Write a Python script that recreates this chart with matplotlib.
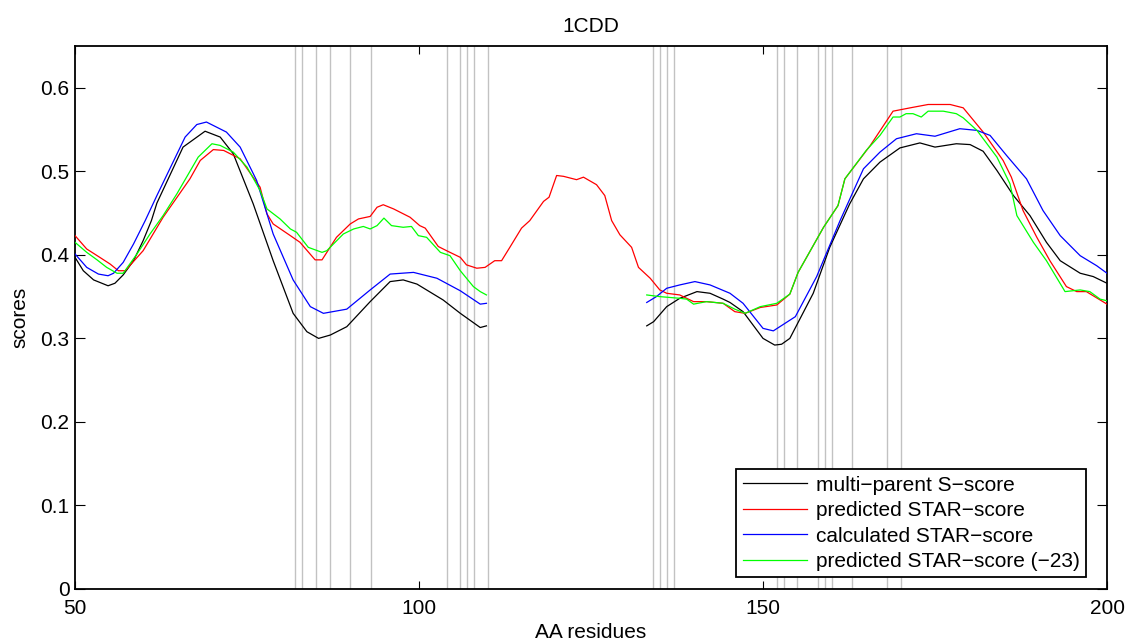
import matplotlib
matplotlib.use("Agg")
import matplotlib.pyplot as plt

plt.rcParams['font.family'] = ['Liberation Sans', 'DejaVu Sans']

# positions of the gray marker lines (residue numbers)
marks = [82, 83, 85, 87, 90, 93, 104, 106, 107, 108, 110,
         134, 135, 136, 137, 152, 153, 155, 158, 159, 160, 163, 168, 170]

# multi-parent S-score (two segments, gap between 110 and 133)
black_x1 = [50, 51.2, 52.7, 54.8, 55.8, 57.0, 58.5, 59.9, 61.1, 61.9, 65.7, 68.9, 71.1, 73.0, 75.9,
            78.8, 81.7, 83.7, 85.4, 87.1, 89.5, 92.9, 95.8, 97.7, 99.7, 103.5, 106.0, 108.9, 109.8]
black_y1 = [0.397, 0.381, 0.370, 0.363, 0.366, 0.376, 0.393, 0.417, 0.441, 0.462, 0.529, 0.548, 0.541,
            0.521, 0.461, 0.393, 0.330, 0.308, 0.300, 0.304, 0.314, 0.344, 0.368, 0.370, 0.365,
            0.346, 0.330, 0.313, 0.315]
black_x2 = [133.1, 134.1, 136.0, 137.9, 140.4, 142.3, 144.2, 145.2, 147.1, 150.0, 151.7, 152.7, 153.9,
            157.3, 159.7, 162.6, 164.6, 167.0, 169.9, 172.8, 175.0, 178.1, 180.1, 182.0, 184.0,
            186.4, 188.8, 191.2, 193.2, 196.1, 198.0, 200]
black_y2 = [0.315, 0.320, 0.338, 0.348, 0.356, 0.354, 0.347, 0.343, 0.332, 0.300, 0.292, 0.293, 0.300,
            0.354, 0.409, 0.461, 0.491, 0.511, 0.528, 0.534, 0.529, 0.533, 0.532, 0.524, 0.501,
            0.471, 0.447, 0.415, 0.393, 0.378, 0.374, 0.366]

# predicted STAR-score (continuous)
red_x = [50, 51.7, 53.6, 55.1, 56.3, 57.3, 59.9, 62.8, 66.7, 68.2, 70.1, 71.6, 74.0, 76.9, 77.9,
         78.8, 81.3, 82.7, 84.9, 85.9, 88.0, 90.0, 91.2, 92.9, 93.9, 94.8, 96.3, 98.7, 100.1,
         100.9, 102.8, 104.0, 106.0, 106.9, 108.4, 109.6, 111.0, 112.0, 113.2, 114.9, 116.1,
         118.1, 118.9, 120.0, 121.0, 122.9, 123.9, 125.8, 127.0, 128.0, 129.2, 130.9, 131.9,
         133.6, 135.0, 136.0, 137.9, 139.9, 141.8, 144.2, 145.9, 147.4, 149.6, 152.0, 153.9,
         155.1, 158.8, 160.9, 161.9, 165.6, 168.9, 171.4, 174.0, 177.2, 179.1, 182.0, 184.9,
         186.1, 187.8, 189.8, 191.7, 194.1, 195.6, 197.0, 199.0, 200]
red_y = [0.423, 0.407, 0.397, 0.389, 0.381, 0.381, 0.405, 0.445, 0.491, 0.513, 0.526, 0.525, 0.515,
         0.481, 0.449, 0.437, 0.423, 0.415, 0.394, 0.394, 0.421, 0.437, 0.443, 0.446, 0.457,
         0.460, 0.455, 0.445, 0.435, 0.432, 0.410, 0.405, 0.397, 0.388, 0.384, 0.385, 0.393,
         0.393, 0.409, 0.432, 0.441, 0.464, 0.469, 0.495, 0.494, 0.490, 0.493, 0.484, 0.471,
         0.441, 0.424, 0.409, 0.385, 0.372, 0.358, 0.354, 0.352, 0.344, 0.344, 0.342, 0.332,
         0.330, 0.337, 0.340, 0.353, 0.379, 0.433, 0.459, 0.491, 0.531, 0.572, 0.576, 0.580,
         0.580, 0.576, 0.547, 0.513, 0.493, 0.453, 0.421, 0.393, 0.362, 0.356, 0.356, 0.346, 0.341]

# calculated STAR-score (two segments)
blue_x1 = [50, 51.7, 53.4, 54.8, 55.6, 57.0, 58.5, 60.2, 61.9, 66.0, 67.7, 69.1, 72.0, 74.0, 76.4,
           78.8, 81.7, 84.2, 86.1, 89.5, 92.9, 95.8, 99.2, 102.6, 106.0, 108.9, 109.8]
blue_y1 = [0.401, 0.385, 0.377, 0.375, 0.378, 0.391, 0.413, 0.441, 0.471, 0.541, 0.556, 0.559, 0.547,
           0.529, 0.489, 0.425, 0.370, 0.338, 0.330, 0.335, 0.358, 0.377, 0.379, 0.372, 0.357,
           0.341, 0.342]
blue_x2 = [133.1, 134.5, 136.0, 137.9, 140.1, 142.3, 145.2, 147.1, 150.0, 151.5, 154.7, 157.8, 161.2,
           164.6, 167.0, 169.4, 172.3, 175.0, 178.6, 181.1, 183.0, 185.4, 188.3, 190.7, 193.2,
           196.1, 198.5, 200]
blue_y2 = [0.343, 0.350, 0.360, 0.364, 0.368, 0.364, 0.354, 0.342, 0.312, 0.309, 0.326, 0.374, 0.441,
           0.503, 0.523, 0.539, 0.545, 0.542, 0.551, 0.549, 0.543, 0.519, 0.491, 0.453, 0.423,
           0.399, 0.387, 0.378]

# predicted STAR-score (-23) (two segments)
green_x1 = [50, 51.7, 53.2, 54.6, 56.1, 57.0, 59.0, 60.9, 62.8, 64.8, 67.9, 69.9, 71.1, 73.0, 75.0,
            76.9, 77.9, 79.8, 81.3, 82.2, 83.9, 85.9, 86.6, 89.0, 90.5, 91.9, 92.9, 93.9, 94.9,
            96.0, 97.7, 98.9, 99.9, 101.1, 103.1, 104.5, 106.0, 107.9, 108.9, 109.8]
green_y1 = [0.415, 0.403, 0.394, 0.385, 0.378, 0.378, 0.401, 0.425, 0.447, 0.473, 0.517, 0.533, 0.531,
            0.523, 0.505, 0.477, 0.455, 0.443, 0.431, 0.427, 0.409, 0.403, 0.405, 0.425, 0.431,
            0.434, 0.431, 0.435, 0.444, 0.435, 0.433, 0.434, 0.423, 0.421, 0.403, 0.399, 0.381,
            0.362, 0.356, 0.352]
green_x2 = [133.1, 135.0, 137.9, 138.9, 139.9, 141.8, 144.2, 145.9, 147.4, 149.6, 152.0, 153.9, 155.1,
            158.8, 160.9, 161.9, 165.0, 167.0, 168.9, 169.9, 170.8, 171.8, 173.0, 174.0, 176.2,
            178.1, 179.1, 181.1, 184.0, 185.9, 186.9, 189.3, 191.2, 193.9, 196.1, 197.5, 199.0, 200]
green_y2 = [0.352, 0.350, 0.348, 0.347, 0.341, 0.344, 0.342, 0.335, 0.330, 0.338, 0.342, 0.353, 0.379,
            0.433, 0.459, 0.491, 0.525, 0.543, 0.565, 0.565, 0.569, 0.569, 0.565, 0.572, 0.572,
            0.569, 0.564, 0.549, 0.517, 0.485, 0.447, 0.415, 0.393, 0.356, 0.358, 0.356, 0.347, 0.345]


def main():
    fs = 15
    fig = plt.figure(figsize=(11.25, 6.4), dpi=100)
    ax = fig.add_axes([0.0667, 0.0797, 0.9173, 0.8484])

    for m in marks:
        ax.axvline(m, color=(0.76, 0.76, 0.76), lw=1.0, zorder=1)

    lw = 0.9
    ax.plot(black_x1, black_y1, color='k', lw=lw, label='multi\u2212parent S\u2212score', zorder=3)
    ax.plot(black_x2, black_y2, color='k', lw=lw, zorder=3)
    ax.plot(red_x, red_y, color=(1, 0, 0), lw=lw, label='predicted STAR\u2212score', zorder=3)
    ax.plot(blue_x1, blue_y1, color=(0, 0, 1), lw=lw, label='calculated STAR\u2212score', zorder=3)
    ax.plot(blue_x2, blue_y2, color=(0, 0, 1), lw=lw, zorder=3)
    ax.plot(green_x1, green_y1, color=(0, 1, 0), lw=lw,
            label='predicted STAR\u2212score (\u221223)', zorder=3)
    ax.plot(green_x2, green_y2, color=(0, 1, 0), lw=lw, zorder=3)

    ax.set_xlim(50, 200)
    ax.set_ylim(0, 0.65)
    ax.set_xticks([50, 100, 150, 200])
    ax.set_yticks([0, 0.1, 0.2, 0.3, 0.4, 0.5, 0.6])
    ax.set_yticklabels(['0', '0.1', '0.2', '0.3', '0.4', '0.5', '0.6'])
    ax.tick_params(direction='in', top=True, right=True, width=0.8, labelsize=fs)
    ax.tick_params(axis='x', length=6, pad=7)
    ax.tick_params(axis='y', length=7, pad=4)
    for s in ax.spines.values():
        s.set_linewidth(1.3)

    ax.set_title('1CDD', fontsize=fs, pad=10)
    ax.set_xlabel('AA residues', fontsize=fs, labelpad=4)
    ax.set_ylabel('scores', fontsize=fs, labelpad=8)

    leg = ax.legend(loc='lower right', bbox_to_anchor=(0.9794, 0.0215), borderaxespad=0,
                    fontsize=fs, fancybox=False, framealpha=1, edgecolor='k',
                    handlelength=3.1, handletextpad=0.4, labelspacing=0.31, borderpad=0.3)
    leg.get_frame().set_linewidth(1.3)
    leg.set_zorder(5)

    fig.savefig('out.png', dpi=100)
    return 0


if __name__ == "__main__":
    main()
